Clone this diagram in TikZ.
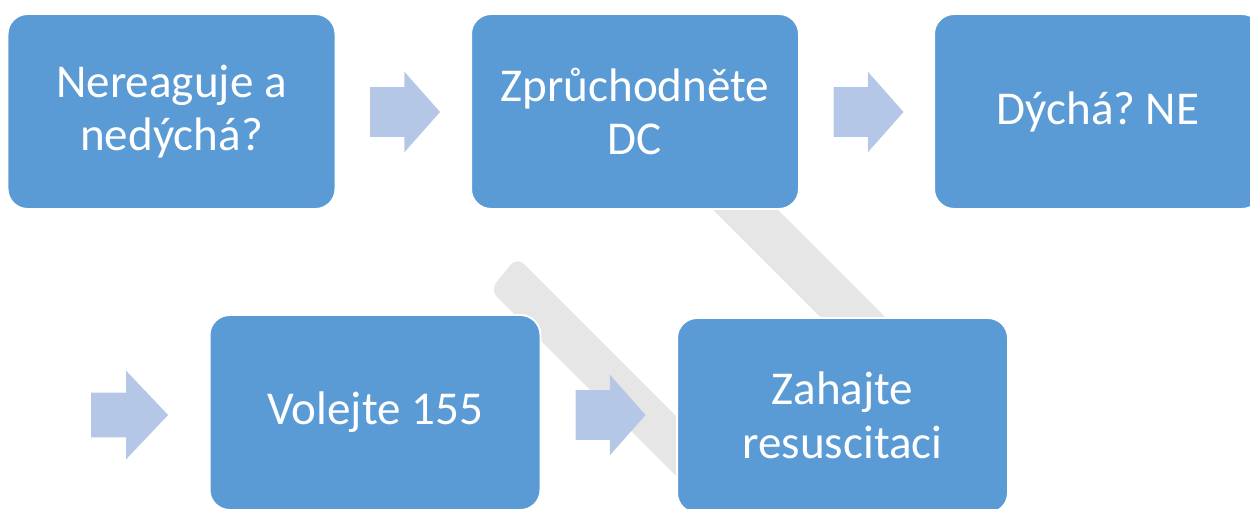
\documentclass[tikz,border=0pt]{standalone}
\usepackage{fontspec}
\setmainfont{Carlito}
\frenchspacing
\usetikzlibrary{shapes.arrows}
\definecolor{boxblue}{HTML}{5B9BD5}
\definecolor{arrowblue}{HTML}{B4C7E7}
\definecolor{bandgrey}{HTML}{E7E6E6}
\tikzset{
  stepbox/.style={rounded corners=0.4cm, fill=boxblue, draw=white, line width=1.1pt,
    minimum width=6.56cm, minimum height=3.9cm, align=center,
    text=white, font=\fontsize{26.8}{30.5}\selectfont},
  blockarrow/.style={single arrow, fill=arrowblue, draw=none, inner xsep=0pt,
    inner ysep=0.49cm, minimum height=1.4cm, single arrow head extend=0.31cm,
    single arrow tip angle=97}
}
\begin{document}
\begin{tikzpicture}[x=0.02cm,y=-0.02cm]
  \clip (0,0) rectangle (1250,509);
  % grey bends behind the boxes
  \fill[bandgrey, rounded corners=0.2cm] (517,257) -- (720,460) -- (720,520) -- (490,290) -- cycle;
  \fill[bandgrey] (703,200) -- (833,330) -- (898,330) -- (768,200) -- cycle;
  % steps
  \node[stepbox] (n1) at (171.5,111.5) {Nereaguje a\\nedýchá?};
  \node[stepbox] (n2) at (635,111.5) {Zprůchodněte\\DC};
  \node[stepbox] (n3) at (1098,111.5) {Dýchá? NE};
  \node[stepbox, minimum width=6.62cm] (n4) at (375,412.5) {Volejte 155};
  \node[stepbox, minimum width=6.62cm] (n5) at (842.5,415.5) {Zahajte\\resuscitaci};
  % arrows
  \node[blockarrow] (a1) at (394,112) {};
  \node[blockarrow] (a2) at (857.5,112) {};
  \node[blockarrow, inner ysep=0.44cm, minimum height=1.54cm,
    single arrow head extend=0.44cm, single arrow tip angle=93] (a3) at (119,415) {};
  \node[blockarrow] (a4) at (599.5,415) {};
\end{tikzpicture}
\end{document}
